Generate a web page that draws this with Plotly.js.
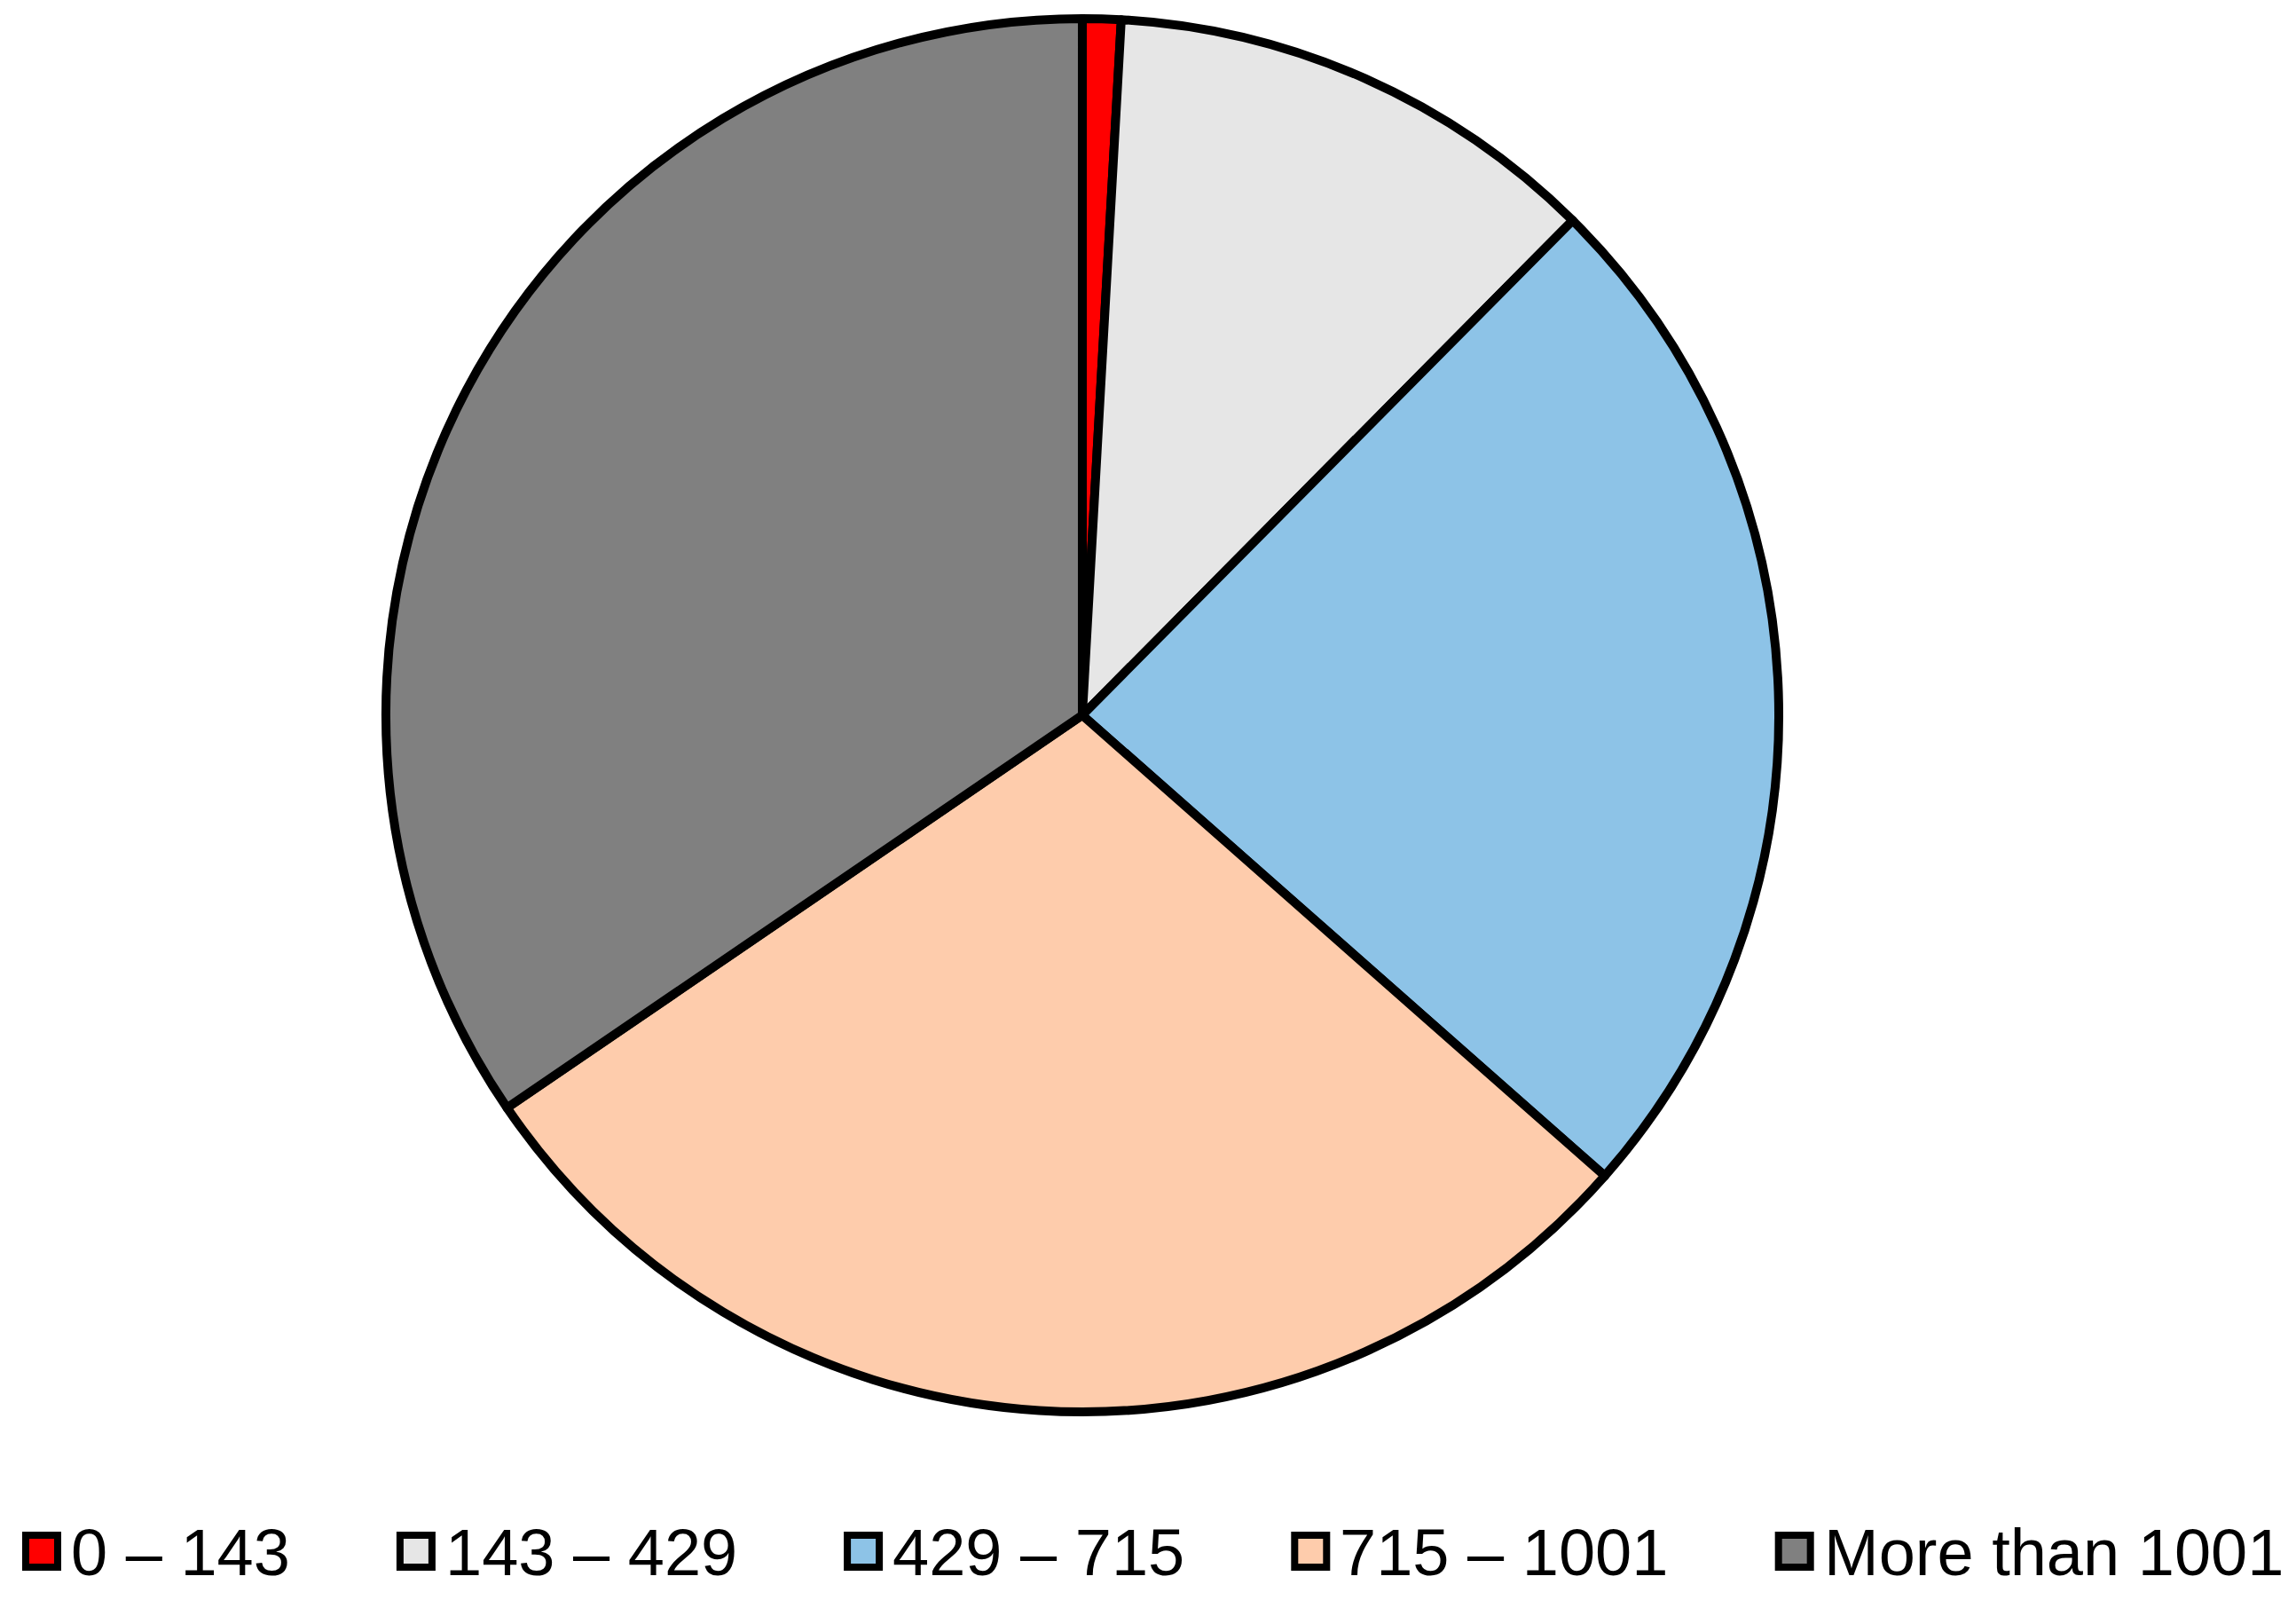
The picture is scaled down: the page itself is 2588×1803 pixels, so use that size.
<!DOCTYPE html>
<html>
<head>
<meta charset="utf-8">
<script src="https://cdn.plot.ly/plotly-3.0.1.min.js"></script>
<style>
  html, body { margin: 0; padding: 0; background: #ffffff; }
  #chart { width: 2588px; height: 1803px; }
</style>
</head>
<body>
<div id="chart"></div>
<script>
// ---- data ----
const categories = ["0 \u2013 143", "143 \u2013 429", "429 \u2013 715", "715 \u2013 1001", "More than 1001"];
const shares = [0.89, 11.54, 24.07, 28.97, 34.53];
const colors = ["#FF0000", "#E6E6E6", "#8DC3E7", "#FECCAC", "#808080"];

// ---- page geometry ----
const W = 2588, H = 1803;
const FONT = "Liberation Sans, Arial, sans-serif";
const FONT_SIZE = 74;

const pie = {
  type: "pie",
  labels: categories,
  values: shares,
  sort: false,
  direction: "clockwise",
  rotation: 0,
  textinfo: "none",
  hoverinfo: "label+percent",
  showlegend: false,
  marker: { colors: colors, line: { color: "#000000", width: 10 } },
  domain: { x: [0.1214, 0.8214], y: [0.1176, 0.9884] }
};

// ---- legend built from the category / colour arrays ----
const canvas = document.createElement("canvas");
const ctx = canvas.getContext("2d");
ctx.font = FONT_SIZE + "px 'Liberation Sans', Arial, sans-serif";

const shapes = [];
const annotations = [];
const boxSize = 44, boxTop = 1726, textOffset = 55, entryGap = 120;
let cursor = 25;
categories.forEach((name, i) => {
  const tw = ctx.measureText(name).width;
  shapes.push({
    type: "rect", xref: "paper", yref: "paper",
    x0: (cursor + 4) / W, x1: (cursor + boxSize - 4) / W,
    y0: 1 - (boxTop + boxSize - 4) / H, y1: 1 - (boxTop + 4) / H,
    fillcolor: colors[i],
    line: { color: "#000000", width: 8 }
  });
  annotations.push({
    xref: "paper", yref: "paper",
    x: (cursor + textOffset - 2) / W, y: 1 - 1749 / H,
    xanchor: "left", yanchor: "middle",
    text: name, showarrow: false,
    font: { family: FONT, size: FONT_SIZE, color: "#000000" }
  });
  cursor += textOffset + tw + entryGap;
});

const layout = {
  width: W, height: H,
  margin: { l: 0, r: 0, t: 0, b: 0, pad: 0 },
  paper_bgcolor: "#ffffff",
  plot_bgcolor: "#ffffff",
  font: { family: FONT, size: FONT_SIZE, color: "#000000" },
  showlegend: false,
  shapes: shapes,
  annotations: annotations
};

Plotly.newPlot("chart", [pie], layout, { displayModeBar: false, staticPlot: true });
</script>
</body>
</html>
